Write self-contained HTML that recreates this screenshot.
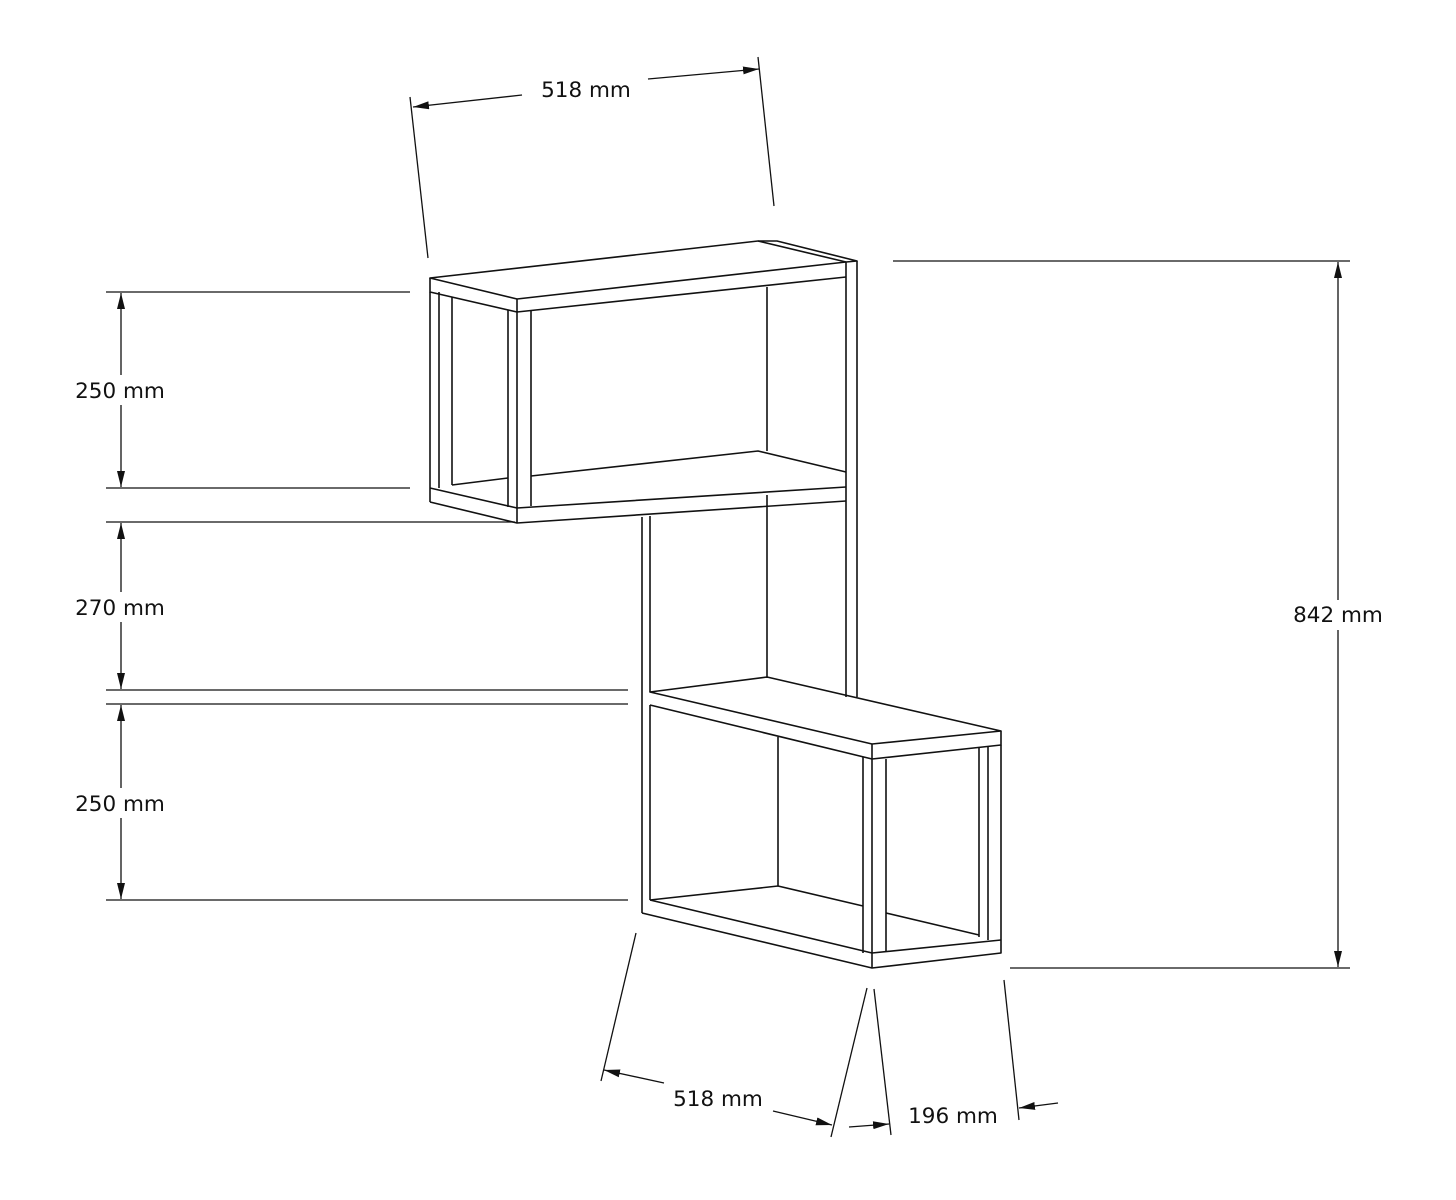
<!DOCTYPE html>
<html><head><meta charset="utf-8"><style>
html,body{margin:0;padding:0;background:#fff}
svg{display:block}
text{font-family:"DejaVu Sans","Liberation Sans",sans-serif;font-size:21.5px;fill:#111}
</style></head><body>
<svg width="1456" height="1200" viewBox="0 0 1456 1200" xmlns="http://www.w3.org/2000/svg">
<defs>
<marker id="a" viewBox="0 0 16 8" refX="16" refY="4" markerWidth="16" markerHeight="8" orient="auto" markerUnits="userSpaceOnUse">
<path d="M0,0 L16,4 L0,8 Z" fill="#111"/>
</marker>
</defs>
<g stroke="#111" stroke-width="1.6" fill="none" stroke-linejoin="round">
<path d="M430,278 L758,241 L777,241 L857,261 L846,262 L517,299 Z"/>
<path d="M517,299 L517,312 L846,277"/>
<path d="M430,278 L430,292 L517,312"/>
<path d="M758,241 L846,262"/>
<line x1="430" y1="292" x2="430" y2="502"/>
<line x1="439" y1="292" x2="439" y2="488"/>
<line x1="452" y1="297" x2="452" y2="485"/>
<line x1="508" y1="310" x2="508" y2="507"/>
<line x1="517" y1="312" x2="517" y2="523"/>
<line x1="531" y1="311" x2="531" y2="506"/>
<path d="M452,485 L508,478"/>
<path d="M430,488 L517,508 L846,487"/>
<path d="M430,502 L517,523 L846,501"/>
<path d="M531,476 L758,451 L846,472"/>
<line x1="846" y1="262" x2="846" y2="697"/>
<line x1="857" y1="261" x2="857" y2="697"/>
<line x1="767" y1="287" x2="767" y2="451"/>
<line x1="767" y1="495" x2="767" y2="678"/>
<line x1="642" y1="517" x2="642" y2="913"/>
<line x1="650" y1="516" x2="650" y2="692"/>
<line x1="650" y1="705" x2="650" y2="900"/>
<path d="M650,692 L767,677 L1001,731 L872,744 Z"/>
<path d="M650,705 L872,759 L1001,745 L1001,731"/>
<line x1="872" y1="744" x2="872" y2="968"/>
<line x1="778" y1="737" x2="778" y2="886"/>
<path d="M650,900 L778,886 L863,906"/>
<path d="M650,900 L872,953 L1001,940"/>
<path d="M642,913 L872,968 L1001,953 L1001,745"/>
<line x1="863" y1="757" x2="863" y2="953"/>
<line x1="886" y1="759" x2="886" y2="951"/>
<line x1="979" y1="747" x2="979" y2="937"/>
<line x1="988" y1="746" x2="988" y2="940"/>
<path d="M886,913 L979,935"/>
</g>
<g stroke="#111" stroke-width="1.3" fill="none">
<line x1="410" y1="97" x2="428" y2="258"/>
<line x1="758" y1="57" x2="774" y2="206"/>
<line x1="522" y1="95" x2="413" y2="107" marker-end="url(#a)"/>
<line x1="648" y1="79" x2="759" y2="69" marker-end="url(#a)"/>
<line x1="893" y1="261" x2="1350" y2="261"/>
<line x1="1010" y1="968" x2="1350" y2="968"/>
<line x1="1338" y1="600" x2="1338" y2="262" marker-end="url(#a)"/>
<line x1="1338" y1="630" x2="1338" y2="967" marker-end="url(#a)"/>
<line x1="106" y1="292" x2="410" y2="292"/>
<line x1="106" y1="488" x2="410" y2="488"/>
<line x1="106" y1="522" x2="515" y2="522"/>
<line x1="106" y1="690" x2="628" y2="690"/>
<line x1="106" y1="704" x2="628" y2="704"/>
<line x1="106" y1="900" x2="628" y2="900"/>
<line x1="121" y1="375" x2="121" y2="293" marker-end="url(#a)"/>
<line x1="121" y1="405" x2="121" y2="487" marker-end="url(#a)"/>
<line x1="121" y1="592" x2="121" y2="523" marker-end="url(#a)"/>
<line x1="121" y1="622" x2="121" y2="689" marker-end="url(#a)"/>
<line x1="121" y1="788" x2="121" y2="705" marker-end="url(#a)"/>
<line x1="121" y1="818" x2="121" y2="899" marker-end="url(#a)"/>
<line x1="636" y1="933" x2="601" y2="1081"/>
<line x1="867" y1="988" x2="831" y2="1137"/>
<line x1="874" y1="989" x2="891" y2="1135"/>
<line x1="1004" y1="980" x2="1019" y2="1120"/>
<line x1="664" y1="1083" x2="604" y2="1070" marker-end="url(#a)"/>
<line x1="773" y1="1111" x2="832" y2="1125" marker-end="url(#a)"/>
<line x1="849" y1="1127" x2="889" y2="1124" marker-end="url(#a)"/>
<line x1="1058" y1="1103" x2="1019" y2="1108" marker-end="url(#a)"/>
</g>
<g text-anchor="middle">
<text x="586" y="97">518 mm</text>
<text x="1338" y="622">842 mm</text>
<text x="120" y="398">250 mm</text>
<text x="120" y="615">270 mm</text>
<text x="120" y="811">250 mm</text>
<text x="718" y="1106">518 mm</text>
<text x="953" y="1123">196 mm</text>
</g>
</svg>
</body></html>
